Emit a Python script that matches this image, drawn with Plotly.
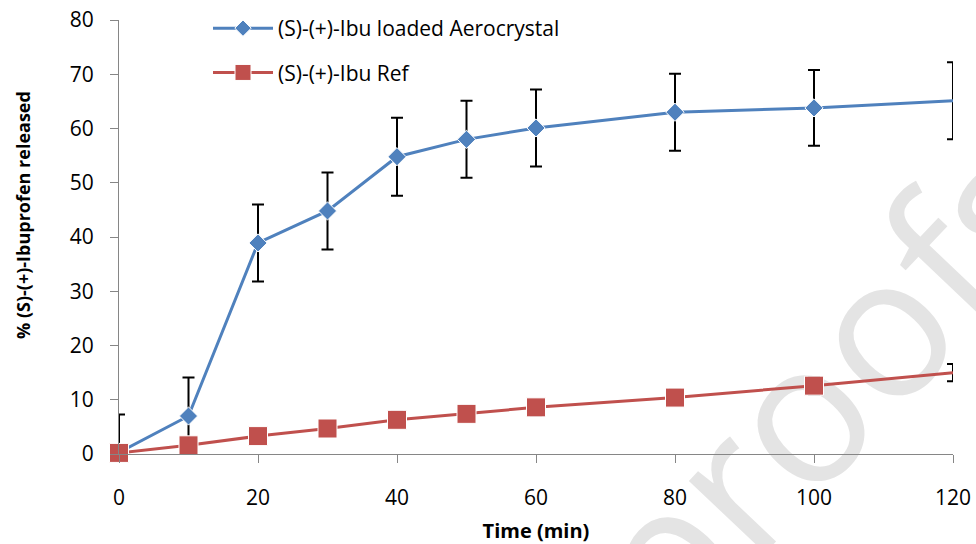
import plotly.graph_objects as go

# ---- data ----
time_min = [0, 10, 20, 30, 40, 50, 60, 80, 100, 120]
aero_release = [0.3, 7.0, 38.9, 44.8, 54.8, 58.0, 60.1, 63.0, 63.8, 65.1]
aero_sd = [7.0, 7.1, 7.1, 7.1, 7.2, 7.1, 7.1, 7.1, 7.0, 7.1]
ref_release = [0.2, 1.6, 3.3, 4.7, 6.3, 7.4, 8.6, 10.4, 12.6, 15.0]
ref_sd = [1.2, 1.3, 1.4, 1.4, 1.5, 1.5, 1.5, 1.5, 1.6, 1.6]
x_ticks = [0, 20, 40, 60, 80, 100, 120]
y_ticks = [0, 10, 20, 30, 40, 50, 60, 70, 80]

name_aero = "(S)-(+)-Ibu loaded Aerocrystal"
name_ref = "(S)-(+)-Ibu Ref"

BLUE = "#4F81BD"
RED = "#C0504D"
AXIS = "#868686"
FONT = "Open Sans"

W, H = 976, 544
ML, MR, MT, MB = 119, 23, 20, 90
PW, PH = W - ML - MR, H - MT - MB


def px_x(p):
    return (p - ML) / PW


def px_y(p):
    return (H - MB - p) / PH


last_t = max(time_min)
aero_sizes = [14 if t < last_t else 0 for t in time_min]
ref_sizes = [19 if t < last_t else 0 for t in time_min]

fig = go.Figure()
# error bars first (drawn beneath the markers)
for ys, sd in ((aero_release, aero_sd), (ref_release, ref_sd)):
    fig.add_trace(go.Scatter(
        x=time_min, y=ys, mode="markers", showlegend=False, hoverinfo="skip",
        marker=dict(size=1, opacity=0),
        error_y=dict(type="data", array=sd, visible=True, color="black",
                     thickness=2, width=6),
        cliponaxis=True,
    ))

fig.add_trace(go.Scatter(
    x=time_min, y=aero_release, name=name_aero, mode="lines+markers",
    legendgroup="a",
    line=dict(color=BLUE, width=3),
    marker=dict(symbol="diamond", size=aero_sizes, color=BLUE, opacity=1),
    cliponaxis=True,
))
fig.add_trace(go.Scatter(
    x=time_min, y=ref_release, name=name_ref, mode="lines+markers",
    legendgroup="b",
    line=dict(color=RED, width=3),
    marker=dict(symbol="square", size=ref_sizes, color=RED, opacity=1),
    cliponaxis=False,
))

# watermark
cx, cy = 830, 393
dx, dy = 0.688, -0.725
fig.add_shape(
    type="line", xref="paper", yref="paper", layer="below",
    x0=px_x(cx - 100 * dx), y0=px_y(cy - 100 * dy),
    x1=px_x(cx + 100 * dx), y1=px_y(cy + 100 * dy),
    line=dict(color="rgba(0,0,0,0)", width=1),
    label=dict(text="proofs", textangle=-46.5, textposition="middle",
               yanchor="middle", xanchor="center",
               font=dict(family=FONT, size=196, color="#e4e4e4")),
)

fig.add_annotation(
    text="<b>% (S)-(+)-Ibuprofen released</b>", textangle=-90,
    xref="paper", yref="paper", x=px_x(23), y=px_y(215),
    xanchor="center", yanchor="middle", showarrow=False,
    font=dict(family=FONT, size=18, color="black"),
)

fig.update_layout(
    width=W, height=H,
    margin=dict(l=ML, r=MR, t=MT, b=MB, autoexpand=False),
    paper_bgcolor="white", plot_bgcolor="white",
    font=dict(family=FONT, color="black"),
    showlegend=True,
    legend=dict(
        x=px_x(208), y=px_y(8), xanchor="left", yanchor="top",
        bgcolor="rgba(0,0,0,0)", traceorder="grouped", tracegroupgap=14,
        font=dict(family=FONT, size=21, color="black"),
        itemwidth=60,
    ),
    xaxis=dict(
        range=[0, 120], tickvals=x_ticks, showgrid=False, zeroline=False,
        showline=True, linecolor=AXIS, linewidth=1,
        ticks="outside", ticklen=8, tickcolor=AXIS, tickwidth=1,
        tickfont=dict(family=FONT, size=21, color="black"),
        ticklabelstandoff=17,
        title=dict(text="<b>Time (min)</b>", font=dict(family=FONT, size=20),
                   standoff=18),
    ),
    yaxis=dict(
        range=[0, 80], tickvals=y_ticks, showgrid=False, zeroline=False,
        showline=True, linecolor=AXIS, linewidth=1,
        ticks="outside", ticklen=8, tickcolor=AXIS, tickwidth=1,
        tickfont=dict(family=FONT, size=21, color="black"),
        ticklabelstandoff=12,
    ),
)

fig.write_html("out.html")
